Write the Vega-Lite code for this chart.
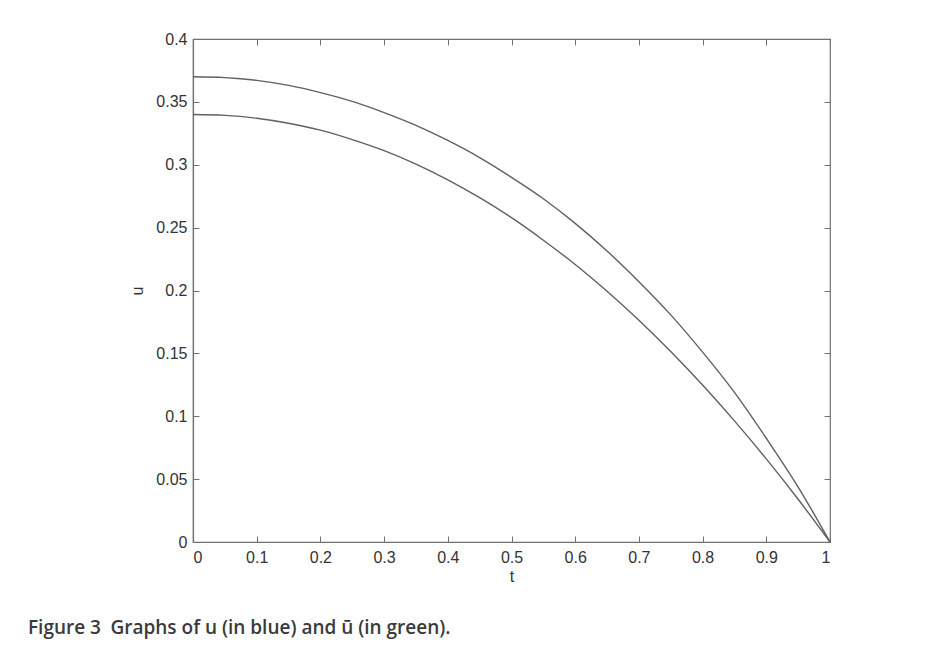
{
  "$schema": "https://vega.github.io/schema/vega-lite/v6.json",
  "width": 637,
  "height": 503,
  "autosize": {"type": "none"},
  "padding": {"left": 193, "top": 39, "right": 118, "bottom": 109},
  "background": "white",
  "config": {
    "view": {"stroke": "#707070", "strokeWidth": 1.2},
    "axis": {
      "grid": false,
      "domainColor": "#707070",
      "domainWidth": 1.2,
      "tickColor": "#707070",
      "tickSize": -6,
      "tickWidth": 1,
      "labelFont": "Liberation Sans",
      "labelFontSize": 16,
      "labelColor": "#333333",
      "titleFont": "Liberation Sans",
      "titleFontSize": 16,
      "titleFontWeight": "normal",
      "titleColor": "#333333"
    }
  },
  "title": {
    "text": "Figure 3\u2002Graphs of u (in blue) and ū (in green).",
    "orient": "bottom",
    "anchor": "start",
    "frame": "group",
    "dx": -165,
    "offset": 35,
    "font": "Open Sans",
    "fontSize": 19,
    "fontWeight": 600,
    "color": "#3a3a3a"
  },
  "data": {
    "values": [
      {"t": 0.00, "v": 0.3700, "s": "u1"},
      {"t": 0.05, "v": 0.3693, "s": "u1"},
      {"t": 0.10, "v": 0.3671, "s": "u1"},
      {"t": 0.15, "v": 0.3631, "s": "u1"},
      {"t": 0.20, "v": 0.3574, "s": "u1"},
      {"t": 0.25, "v": 0.3504, "s": "u1"},
      {"t": 0.30, "v": 0.3415, "s": "u1"},
      {"t": 0.35, "v": 0.3313, "s": "u1"},
      {"t": 0.40, "v": 0.3193, "s": "u1"},
      {"t": 0.45, "v": 0.3057, "s": "u1"},
      {"t": 0.50, "v": 0.2900, "s": "u1"},
      {"t": 0.55, "v": 0.2730, "s": "u1"},
      {"t": 0.60, "v": 0.2534, "s": "u1"},
      {"t": 0.65, "v": 0.2314, "s": "u1"},
      {"t": 0.70, "v": 0.2070, "s": "u1"},
      {"t": 0.75, "v": 0.1806, "s": "u1"},
      {"t": 0.80, "v": 0.1510, "s": "u1"},
      {"t": 0.85, "v": 0.1190, "s": "u1"},
      {"t": 0.90, "v": 0.0825, "s": "u1"},
      {"t": 0.95, "v": 0.0437, "s": "u1"},
      {"t": 1.00, "v": 0.0000, "s": "u1"},
      {"t": 0.00, "v": 0.3400, "s": "u2"},
      {"t": 0.05, "v": 0.3393, "s": "u2"},
      {"t": 0.10, "v": 0.3370, "s": "u2"},
      {"t": 0.15, "v": 0.3330, "s": "u2"},
      {"t": 0.20, "v": 0.3275, "s": "u2"},
      {"t": 0.25, "v": 0.3200, "s": "u2"},
      {"t": 0.30, "v": 0.3112, "s": "u2"},
      {"t": 0.35, "v": 0.3005, "s": "u2"},
      {"t": 0.40, "v": 0.2880, "s": "u2"},
      {"t": 0.45, "v": 0.2738, "s": "u2"},
      {"t": 0.50, "v": 0.2579, "s": "u2"},
      {"t": 0.55, "v": 0.2400, "s": "u2"},
      {"t": 0.60, "v": 0.2207, "s": "u2"},
      {"t": 0.65, "v": 0.1994, "s": "u2"},
      {"t": 0.70, "v": 0.1764, "s": "u2"},
      {"t": 0.75, "v": 0.1515, "s": "u2"},
      {"t": 0.80, "v": 0.1248, "s": "u2"},
      {"t": 0.85, "v": 0.0963, "s": "u2"},
      {"t": 0.90, "v": 0.0661, "s": "u2"},
      {"t": 0.95, "v": 0.0340, "s": "u2"},
      {"t": 1.00, "v": 0.0000, "s": "u2"}
    ]
  },
  "layer": [
    {
      "mark": {"type": "line", "interpolate": "monotone", "color": "#606060", "strokeWidth": 1.4},
      "encoding": {
        "x": {
          "field": "t", "type": "quantitative",
          "scale": {"domain": [0, 1], "nice": false, "zero": false},
          "axis": {
            "title": "t",
            "values": [0, 0.1, 0.2, 0.3, 0.4, 0.5, 0.6, 0.7, 0.8, 0.9, 1],
            "format": "~g",
            "labelPadding": 13,
            "titlePadding": 3
          }
        },
        "y": {
          "field": "v", "type": "quantitative",
          "scale": {"domain": [0, 0.4], "nice": false},
          "axis": {
            "title": "u",
            "values": [0, 0.05, 0.1, 0.15, 0.2, 0.25, 0.3, 0.35, 0.4],
            "format": "~g",
            "labelPadding": 12,
            "titlePadding": 10
          }
        },
        "detail": {"field": "s", "type": "nominal"}
      }
    },
    {
      "mark": {"type": "point", "opacity": 0},
      "encoding": {
        "x": {
          "field": "t", "type": "quantitative",
          "scale": {"domain": [0, 1], "nice": false, "zero": false},
          "axis": {"orient": "top", "title": null, "labels": false, "domain": false,
                   "values": [0, 0.1, 0.2, 0.3, 0.4, 0.5, 0.6, 0.7, 0.8, 0.9, 1]}
        },
        "y": {
          "field": "v", "type": "quantitative",
          "scale": {"domain": [0, 0.4], "nice": false},
          "axis": {"orient": "right", "title": null, "labels": false, "domain": false,
                   "values": [0, 0.05, 0.1, 0.15, 0.2, 0.25, 0.3, 0.35, 0.4]}
        }
      }
    }
  ],
  "resolve": {"axis": {"x": "independent", "y": "independent"}}
}
